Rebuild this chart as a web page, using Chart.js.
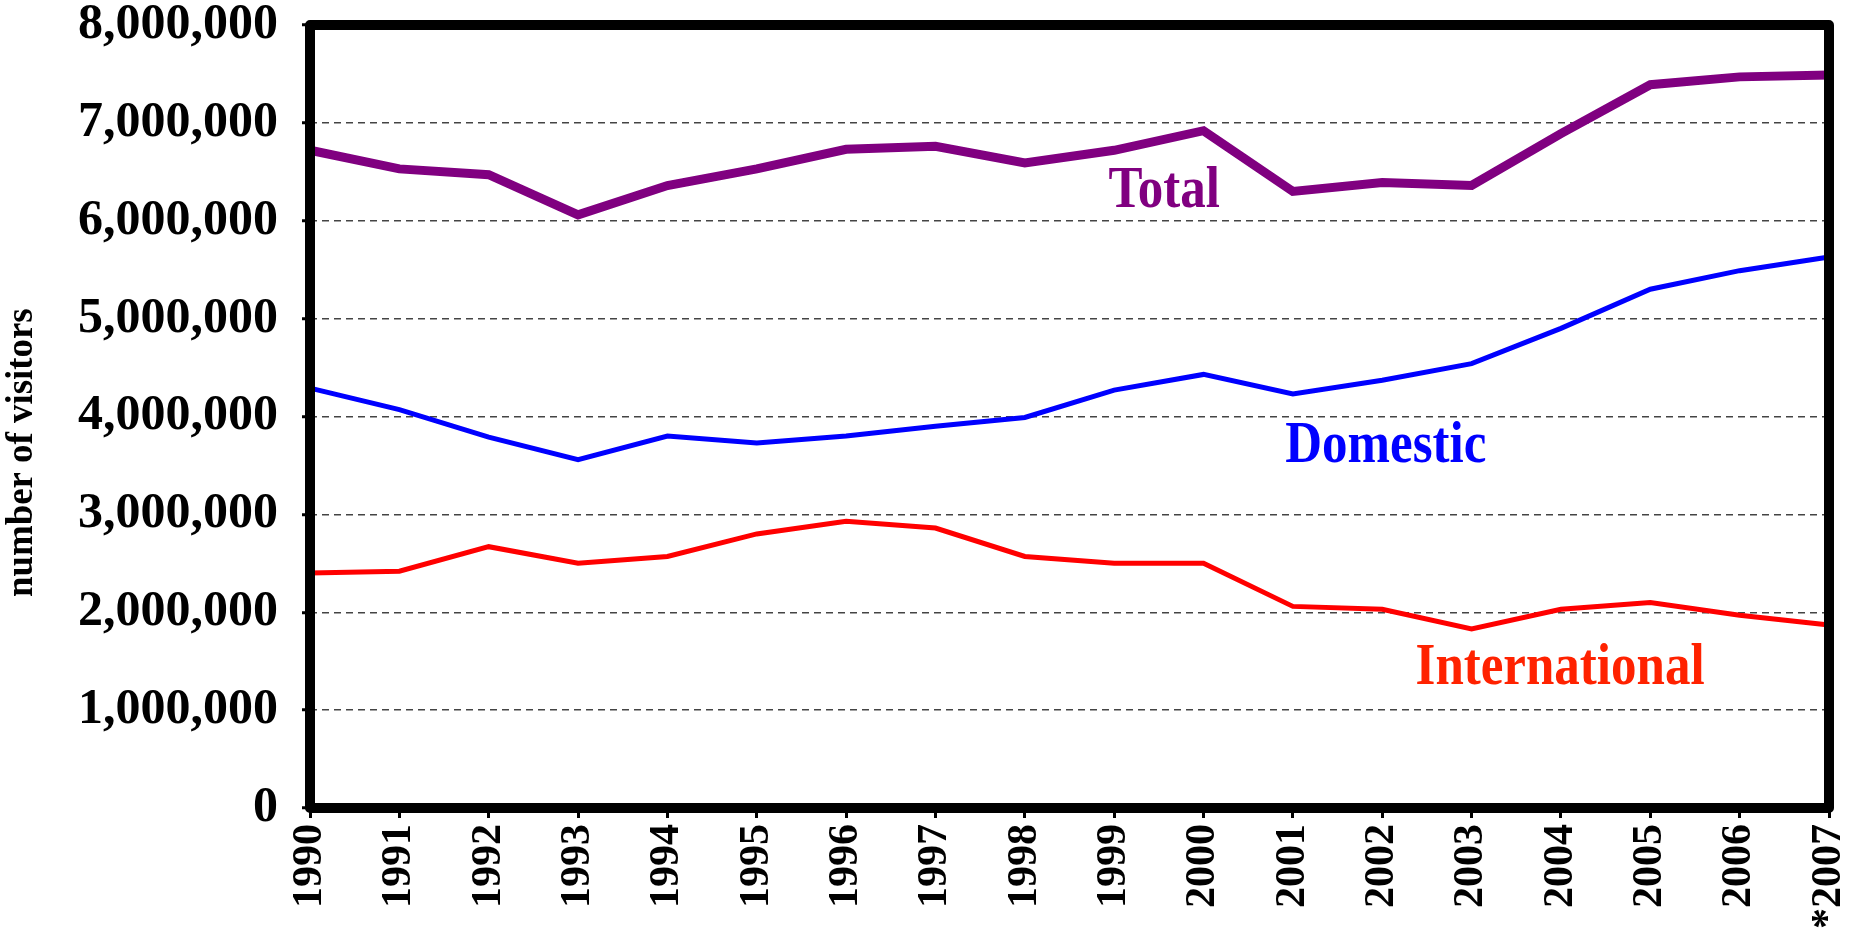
<!DOCTYPE html>
<html>
<head>
<meta charset="utf-8">
<script src="https://cdn.jsdelivr.net/npm/chart.js@4.4.1/dist/chart.umd.min.js"></script>
<style>
  html, body { margin: 0; padding: 0; background: #fff; }
  #wrap { width: 1853px; height: 930px; }
</style>
</head>
<body>
<div id="wrap"><canvas id="visitors_chart" width="1853" height="930"></canvas></div>
<script>
const years = ["1990", "1991", "1992", "1993", "1994", "1995", "1996", "1997", "1998",
  "1999", "2000", "2001", "2002", "2003", "2004", "2005", "2006", "*2007"];

const total = [6720000, 6530000, 6470000, 6060000, 6360000, 6530000, 6730000, 6760000, 6590000,
  6720000, 6920000, 6300000, 6390000, 6360000, 6890000, 7390000, 7470000, 7490000];

const domestic = [4290000, 4070000, 3790000, 3560000, 3800000, 3730000, 3800000, 3900000, 3990000,
  4270000, 4430000, 4230000, 4370000, 4540000, 4900000, 5300000, 5490000, 5630000];

const international = [2400000, 2420000, 2670000, 2500000, 2570000, 2800000, 2930000, 2860000, 2570000,
  2500000, 2500000, 2060000, 2030000, 1830000, 2030000, 2100000, 1970000, 1870000];

const yTicks = [0, 1000000, 2000000, 3000000, 4000000, 5000000, 6000000, 7000000, 8000000];

const serif = "'Liberation Serif', 'Times New Roman', serif";

// frame round the plot area, series names inside it, and the y title
const framePlugin = {
  id: "frame",
  afterDatasetsDraw(chart) {
    const { ctx, chartArea: a, scales } = chart;
    ctx.save();
    ctx.strokeStyle = "#000";
    ctx.lineWidth = 10;
    ctx.lineJoin = "round";
    ctx.strokeRect(a.left, a.top, a.right - a.left, a.bottom - a.top);

    const names = [
      { text: "Total", color: "#800080", i: 9.56, v: 6300000 },
      { text: "Domestic", color: "#0000ff", i: 12.04, v: 3690000 },
      { text: "International", color: "#ff2200", i: 13.99, v: 1430000 },
    ];
    ctx.font = "bold 60px " + serif;
    ctx.textAlign = "center";
    ctx.textBaseline = "middle";
    names.forEach((n) => {
      ctx.save();
      ctx.translate(scales.x.getPixelForValue(n.i), scales.y.getPixelForValue(n.v));
      ctx.scale(0.85, 1);
      ctx.fillStyle = n.color;
      ctx.fillText(n.text, 0, 0);
      ctx.restore();
    });

    // axis title sits a bit below the middle of the axis in the original
    ctx.save();
    ctx.translate(22, scales.y.getPixelForValue(3630000));
    ctx.rotate(-Math.PI / 2);
    ctx.scale(0.97, 1);
    ctx.font = "bold 38px " + serif;
    ctx.fillStyle = "#000";
    ctx.fillText("number of visitors", 0, 0);
    ctx.restore();

    ctx.restore();
  },
};

const ctx = document.getElementById("visitors_chart");

new Chart(ctx, {
  type: "line",
  data: {
    labels: years,
    datasets: [
      { label: "Total", data: total, borderColor: "#800080", borderWidth: 9 },
      { label: "Domestic", data: domestic, borderColor: "#0000ff", borderWidth: 5 },
      { label: "International", data: international, borderColor: "#ff0000", borderWidth: 5 },
    ],
  },
  options: {
    responsive: false,
    animation: false,
    elements: {
      point: { radius: 0 },
      line: { tension: 0, borderCapStyle: "round", borderJoinStyle: "miter" },
    },
    layout: { padding: { top: 25, right: 24, left: 0, bottom: 0 } },
    plugins: { legend: { display: false }, tooltip: { enabled: false } },
    scales: {
      x: {
        offset: false,
        grid: {
          drawOnChartArea: false,
          drawTicks: true,
          tickLength: 10,
          tickColor: "#000",
          tickWidth: 3,
        },
        border: { display: false },
        ticks: {
          color: "#000",
          font: { family: serif, weight: "bold", size: 42 },
          minRotation: 90,
          maxRotation: 90,
          autoSkip: false,
          padding: 6,
        },
        afterFit(scale) {
          scale.height = 122;
          scale.paddingLeft = 0;
          scale.paddingRight = 0;
        },
      },
      y: {
        min: 0,
        max: 8000000,
        afterBuildTicks(scale) { scale.ticks = yTicks.map((v) => ({ value: v })); },
        grid: {
          color: "#444",
          lineWidth: 1.5,
          tickLength: 8,
          tickColor: "#000",
          tickWidth: 3,
          tickBorderDash: [],
        },
        border: { display: false, dash: [7, 5] },
        ticks: {
          color: "#000",
          font: { family: serif, weight: "bold", size: 50 },
          padding: 24,
          callback: (v) => v.toLocaleString("en-US"),
        },
        afterFit(scale) {
          scale.width = 310;
          scale.paddingTop = 0;
          scale.paddingBottom = 0;
        },
      },
    },
  },
  plugins: [framePlugin],
});
</script>
</body>
</html>
